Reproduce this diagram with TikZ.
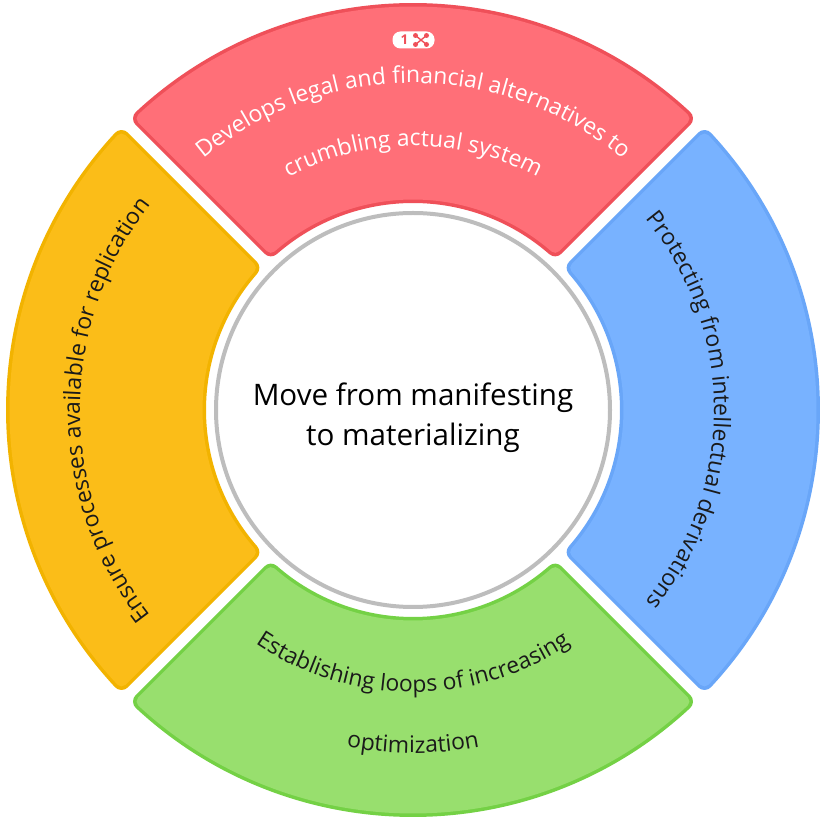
\documentclass[tikz,border=0pt]{standalone}
\usepackage{fontspec}
\setmainfont{Open Sans}
\usetikzlibrary{decorations.text}
\definecolor{redF}{HTML}{FF6F78}
\definecolor{redB}{HTML}{EF5059}
\definecolor{bluF}{HTML}{78B2FF}
\definecolor{bluB}{HTML}{69A6F8}
\definecolor{grnF}{HTML}{98DF6E}
\definecolor{grnB}{HTML}{74D145}
\definecolor{yelF}{HTML}{FBBD18}
\definecolor{yelB}{HTML}{F2B300}
\definecolor{ringC}{HTML}{BDBDBD}
\definecolor{txtC}{HTML}{1A1A1A}
\newcommand{\ringfont}{\fontsize{22.9}{26}\selectfont}
% shrunk sector: outer 398, inner 216, side offset 14.5
\pgfmathsetmacro{\Ro}{398}
\pgfmathsetmacro{\Ri}{216}
\pgfmathsetmacro{\ao}{asin(14.5/\Ro)}
\pgfmathsetmacro{\ai}{asin(14.5/\Ri)}
\newcommand{\segpath}[1]{(#1+\ao:\Ro pt) arc[start angle=#1+\ao, end angle=#1+90-\ao, radius=\Ro pt] -- (#1+90-\ai:\Ri pt) arc[start angle=#1+90-\ai, end angle=#1+\ai, radius=\Ri pt] -- cycle}
\newcommand{\segment}[3]{%
  \fill[#2] \segpath{#1};
  \draw[#2, line width=18pt, line join=round] \segpath{#1};
  \fill[#3] \segpath{#1};
  \draw[#3, line width=11pt, line join=round] \segpath{#1};
}
\tikzset{
  ringtext/.style={decorate, decoration={text along path, text align=center, text color=#1}},
}
\begin{document}
\begin{tikzpicture}[x=1pt, y=1pt]
\fill[white] (0,0) rectangle (825,825);
\useasboundingbox (0,0) rectangle (825,825);
\begin{scope}[shift={(413,415)}]
\coordinate (C) at (0,0);
% segments
\segment{45}{redB}{redF}
\segment{135}{yelB}{yelF}
\segment{225}{grnB}{grnF}
\segment{-45}{bluB}{bluF}
% centre circle
\draw[ringC, line width=4pt, fill=white] (C) circle[radius=197pt];
\node[align=center, inner sep=0pt, text=black, font=\fontsize{29.6}{40}\selectfont] (centre) at (0,-7.5) {Move from manifesting\\to materializing};
% top texts
\path[ringtext=white, decoration={text={|\ringfont|Develops legal and financial alternatives to}}]
  (180:327pt) arc[start angle=180, end angle=0, radius=327pt];
\path[ringtext=white, decoration={text={|\ringfont|crumbling actual system}}]
  (180:264pt) arc[start angle=180, end angle=0, radius=264pt];
% left
\path[ringtext=txtC, decoration={text={|\ringfont|Ensure processes available for replication}}]
  (270:333pt) arc[start angle=270, end angle=90, radius=333pt];
% right
\path[ringtext=txtC, decoration={text={|\ringfont|Protecting from intellectual derivations}}]
  (90:301pt) arc[start angle=90, end angle=-90, radius=301pt];
% bottom
\path[ringtext=txtC, decoration={text={|\ringfont|Establishing loops of increasing}}]
  (180:282pt) arc[start angle=180, end angle=360, radius=282pt];
\path[ringtext=txtC, decoration={text={|\ringfont|optimization}}]
  (180:343pt) arc[start angle=180, end angle=360, radius=343pt];
% badge
\node[fill=white, rounded corners=8pt, minimum width=42pt, minimum height=17pt, inner sep=0pt] (badge) at (0.5,370) {};
\node[text=redB, font=\bfseries\fontsize{13.5}{13.5}\selectfont, inner sep=0pt] (badgeNum) at (-8.5,370) {1};
\coordinate (d1) at (2.5,374.5); \coordinate (d2) at (13.5,374.5);
\coordinate (d3) at (2.5,365.5); \coordinate (d4) at (13.5,365.5);
\draw[redB, line width=1.4pt] (d1) -- (d4) (d2) -- (d3);
\foreach \d in {d1,d2,d3,d4} \fill[redB] (\d) circle[radius=2.5pt];
\end{scope}
\end{tikzpicture}
\end{document}
